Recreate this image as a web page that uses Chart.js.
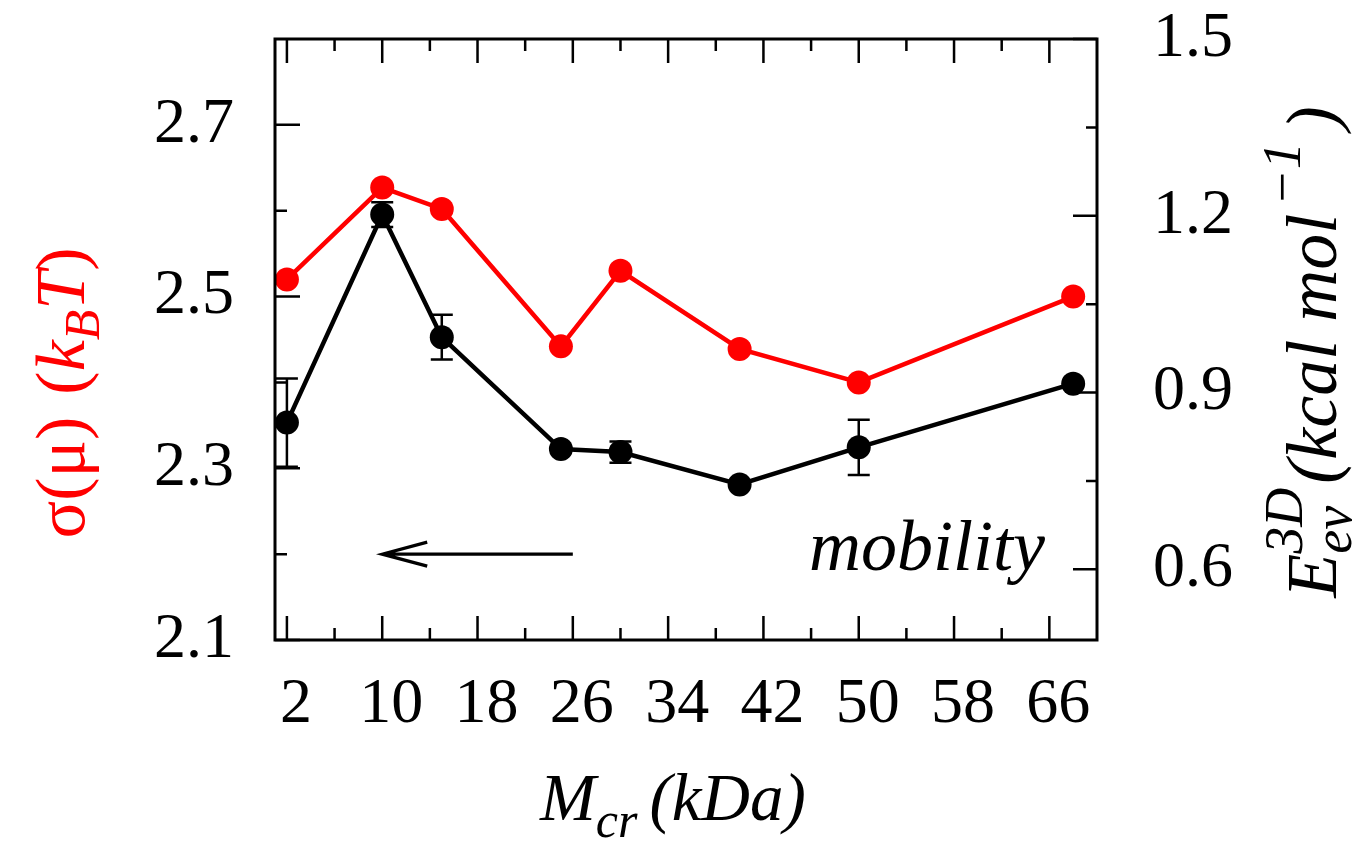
<!DOCTYPE html>
<html>
<head>
<meta charset="utf-8">
<script src="https://cdn.jsdelivr.net/npm/chart.js@4.4.1/dist/chart.umd.min.js"></script>
<style>
  html, body { margin: 0; padding: 0; background: #fff; }
  #wrap { width: 1365px; height: 841px; position: relative; }
</style>
</head>
<body>
<div id="wrap"><canvas id="chart"></canvas></div>
<script>
// Crowder mass (kDa) and the two measured quantities
const massKDa = [2, 10, 15, 25, 30, 40, 50, 68];
const sigmaMu = [2.520, 2.627, 2.602, 2.442, 2.530, 2.439, 2.400, 2.500];
const energyEv = [0.849, 1.202, 0.994, 0.804, 0.799, 0.744, 0.807, 0.915];
const energyErr = [0.075, 0.021, 0.038, 0, 0.018, 0, 0.047, 0];

// Axis ticks
const xTicks = [2, 10, 18, 26, 34, 42, 50, 58, 66];
const xMinorTicks = [6, 14, 22, 30, 38, 46, 54, 62];
const yTicks = [2.1, 2.3, 2.5, 2.7];
const yMinorTicks = [2.2, 2.4, 2.6];
const y2Ticks = [0.6, 0.9, 1.2, 1.5];
const y2MinorTicks = [0.75, 1.05, 1.35];

const SERIF = "'Liberation Serif', 'Times New Roman', serif";
const tickFont = { family: SERIF, size: 64, lineHeight: 1 };

// lays out a run of text pieces (sub/superscripts) along a baseline
function drawRich(ctx, parts, x, y, angle, align) {
  ctx.save();
  ctx.translate(x, y);
  ctx.rotate(angle);
  const laid = [];
  let cursor = 0, held = 0;
  for (const p of parts) {
    ctx.font = (p.italic ? 'italic ' : '') + p.size + 'px ' + SERIF;
    const w = ctx.measureText(p.text).width;
    laid.push({ p, x: cursor });
    if (p.hold) {
      held = Math.max(held, w);
    } else {
      cursor += Math.max(w, held) + (p.gap || 0);
      held = 0;
    }
  }
  const start = align === 'center' ? -cursor / 2 : 0;
  ctx.textBaseline = 'alphabetic';
  ctx.textAlign = 'left';
  for (const l of laid) {
    ctx.font = (l.p.italic ? 'italic ' : '') + l.p.size + 'px ' + SERIF;
    ctx.fillStyle = l.p.color || '#000';
    ctx.fillText(l.p.text, start + l.x, l.p.shift || 0);
  }
  ctx.restore();
}

const decorPlugin = {
  id: 'decor',
  afterDatasetsDraw(chart) {
    const { ctx, chartArea: ca, scales } = chart;
    const xs = scales.x, ys = scales.y, y2s = scales.y2;
    ctx.save();
    ctx.strokeStyle = '#000';

    // error bars on the energy series
    ctx.lineWidth = 2.5;
    massKDa.forEach((m, i) => {
      if (!energyErr[i]) return;
      const px = xs.getPixelForValue(m);
      const top = y2s.getPixelForValue(energyEv[i] + energyErr[i]);
      const bot = y2s.getPixelForValue(energyEv[i] - energyErr[i]);
      ctx.beginPath();
      ctx.moveTo(px, top); ctx.lineTo(px, bot);
      ctx.moveTo(px - 11, top); ctx.lineTo(px + 11, top);
      ctx.moveTo(px - 11, bot); ctx.lineTo(px + 11, bot);
      ctx.stroke();
    });

    // inward tick marks
    ctx.lineWidth = 2.5;
    ctx.beginPath();
    const xTick = (v, len) => {
      const px = xs.getPixelForValue(v);
      ctx.moveTo(px, ca.bottom); ctx.lineTo(px, ca.bottom - len);
      ctx.moveTo(px, ca.top); ctx.lineTo(px, ca.top + len);
    };
    xTicks.forEach(v => xTick(v, 24));
    xMinorTicks.forEach(v => xTick(v, 12));
    const yTick = (v, len) => {
      const py = ys.getPixelForValue(v);
      ctx.moveTo(ca.left, py); ctx.lineTo(ca.left + len, py);
    };
    yTicks.forEach(v => yTick(v, 25));
    yMinorTicks.forEach(v => yTick(v, 12));
    const y2Tick = (v, len) => {
      const py = y2s.getPixelForValue(v);
      ctx.moveTo(ca.right, py); ctx.lineTo(ca.right - len, py);
    };
    y2Ticks.forEach(v => y2Tick(v, 24));
    y2MinorTicks.forEach(v => y2Tick(v, 11));
    ctx.stroke();

    // plot frame
    ctx.lineWidth = 3;
    ctx.strokeRect(ca.left, ca.top, ca.right - ca.left, ca.bottom - ca.top);

    // arrow pointing to the left axis series
    const ay = ys.getPixelForValue(2.2);
    const ax0 = xs.getPixelForValue(26), ax1 = xs.getPixelForValue(10);
    ctx.lineWidth = 3.2;
    ctx.beginPath();
    ctx.moveTo(ax0, ay); ctx.lineTo(ax1, ay);
    ctx.moveTo(ax1 + 45, ay - 12); ctx.lineTo(ax1, ay); ctx.lineTo(ax1 + 45, ay + 12);
    ctx.stroke();

    // annotation
    ctx.fillStyle = '#000';
    ctx.font = 'italic 72px ' + SERIF;
    ctx.textAlign = 'left';
    ctx.textBaseline = 'alphabetic';
    ctx.fillText('mobility', ca.right - 288, ca.bottom - 70);
    ctx.restore();

    // axis titles
    drawRich(ctx, [
      { text: 'M', size: 67, italic: true },
      { text: 'cr', size: 50, italic: true, shift: 17, gap: 12 },
      { text: '(kDa)', size: 67, italic: true }
    ], 540, 820, 0, 'left');

    drawRich(ctx, [
      { text: 'σ(μ)', size: 70, color: '#ff0000', gap: 22 },
      { text: '(', size: 70, color: '#ff0000' },
      { text: 'k', size: 70, italic: true, color: '#ff0000' },
      { text: 'B', size: 50, italic: true, shift: 15, color: '#ff0000' },
      { text: 'T', size: 70, italic: true, color: '#ff0000' },
      { text: ')', size: 70, color: '#ff0000' }
    ], 84, 393, -Math.PI / 2, 'center');

    drawRich(ctx, [
      { text: 'E', size: 72, italic: true },
      { text: '3D', size: 54, italic: true, shift: -34, hold: true },
      { text: 'ev', size: 54, italic: true, shift: 15, gap: 4 },
      { text: '(kcal mol', size: 72, italic: true, gap: 8 },
      { text: '−1', size: 54, italic: true, shift: -36, gap: 12 },
      { text: ')', size: 72, italic: true }
    ], 1336, 352, -Math.PI / 2, 'center');
  }
};

const hiddenGrid = { display: false, drawTicks: false };
// keep the plot box fixed: no extra room for edge labels
const noPad = s => { s.paddingTop = 0; s.paddingBottom = 0; s.paddingLeft = 0; s.paddingRight = 0; };

new Chart(document.getElementById('chart'), {
  type: 'line',
  data: {
    datasets: [
      {
        label: 'sigma',
        data: massKDa.map((m, i) => ({ x: m, y: sigmaMu[i] })),
        yAxisID: 'y',
        borderColor: '#ff0000',
        backgroundColor: '#ff0000',
        borderWidth: 4.5,
        pointRadius: 12,
        pointBorderWidth: 0,
        tension: 0,
        order: 1
      },
      {
        label: 'energy',
        data: massKDa.map((m, i) => ({ x: m, y: energyEv[i] })),
        yAxisID: 'y2',
        borderColor: '#000000',
        backgroundColor: '#000000',
        borderWidth: 4.5,
        pointRadius: 12,
        pointBorderWidth: 0,
        tension: 0,
        order: 2
      }
    ]
  },
  options: {
    responsive: true,
    maintainAspectRatio: false,
    animation: false,
    layout: { padding: { top: 39, left: 0, right: 0, bottom: 0 } },
    plugins: {
      legend: { display: false },
      tooltip: { enabled: false }
    },
    scales: {
      x: {
        type: 'linear',
        min: 1,
        max: 70,
        grid: hiddenGrid,
        border: { display: false },
        afterBuildTicks: s => { s.ticks = xTicks.map(v => ({ value: v })); },
        afterFit: s => { s.height = 201; noPad(s); },
        ticks: {
          font: tickFont,
          color: '#000',
          padding: 33,
          labelOffset: 9,
          maxRotation: 0,
          autoSkip: false
        }
      },
      y: {
        position: 'left',
        min: 2.1,
        max: 2.8,
        grid: hiddenGrid,
        border: { display: false },
        afterBuildTicks: s => { s.ticks = yTicks.map(v => ({ value: v })); },
        afterFit: s => { s.width = 275; noPad(s); },
        ticks: {
          font: tickFont,
          color: '#000',
          padding: 41,
          callback: v => v.toFixed(1)
        }
      },
      y2: {
        position: 'right',
        min: 0.48,
        max: 1.5,
        grid: hiddenGrid,
        border: { display: false },
        afterBuildTicks: s => { s.ticks = y2Ticks.map(v => ({ value: v })); },
        afterFit: s => { s.width = 268; noPad(s); },
        ticks: {
          font: tickFont,
          color: '#000',
          padding: 56,
          callback: v => v.toFixed(1)
        }
      }
    }
  },
  plugins: [decorPlugin]
});
</script>
</body>
</html>
